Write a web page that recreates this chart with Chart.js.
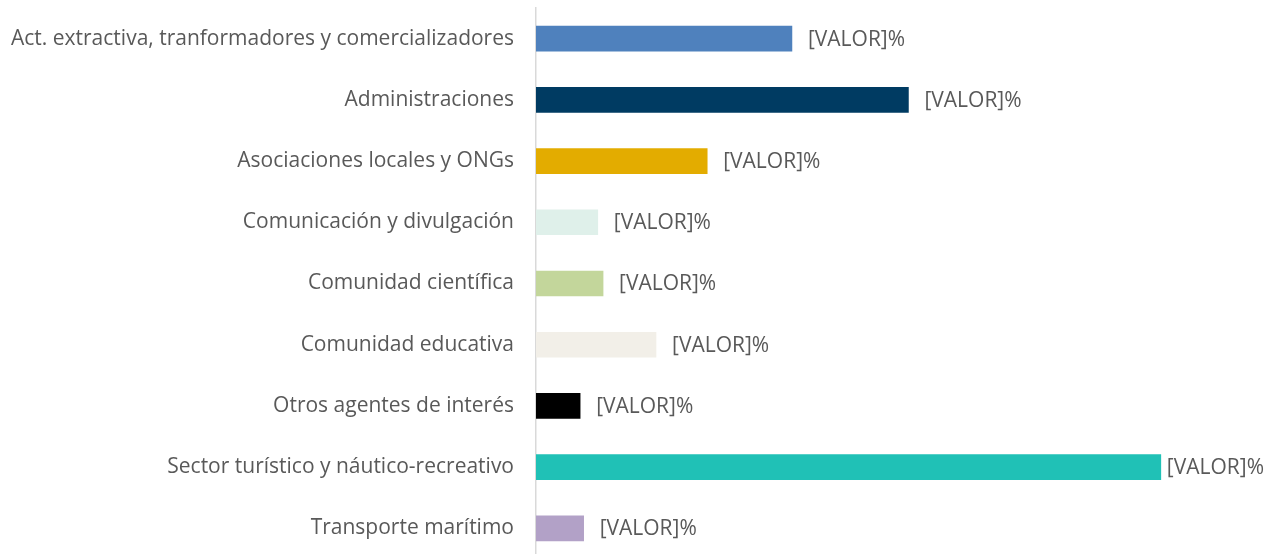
<!DOCTYPE html>
<html>
<head>
<meta charset="utf-8">
<script src="https://cdn.jsdelivr.net/npm/chart.js@4"></script>
<style>
  html, body { margin: 0; padding: 0; background: #fff; overflow: hidden; }
  #wrap { width: 1275px; height: 560px; }
</style>
</head>
<body>
<div id="wrap"><canvas id="myChart"></canvas></div>
<script>
'use strict';
// categories, top to bottom
let categories = [
    'Act. extractiva, tranformadores y comercializadores',
    'Administraciones',
    'Asociaciones locales y ONGs',
    'Comunicación y divulgación',
    'Comunidad científica',
    'Comunidad educativa',
    'Otros agentes de interés',
    'Sector turístico y náutico-recreativo',
    'Transporte marítimo'
];
// estimated shares (%)
let values = [14.5, 21.1, 9.7, 3.5, 3.8, 6.8, 2.5, 35.4, 2.7];
let barColors = [
    '#4F81BD', '#003B62', '#E3AC00', '#DFF0EA', '#C3D69B',
    '#F2EFE8', '#000000', '#20C1B6', '#B2A1C7'
];
let labelText = '[VALOR]%';

const fontFamily = '"Open Sans", sans-serif';
const textColor = '#595959';

// draws "[VALOR]%" to the right of each bar, kept inside the canvas
const valueLabels = {
    id: 'valueLabels',
    afterDatasetsDraw(chart) {
        const ctx = chart.ctx;
        const meta = chart.getDatasetMeta(0);
        ctx.save();
        ctx.font = '21px ' + fontFamily;
        ctx.fillStyle = textColor;
        ctx.textAlign = 'left';
        ctx.textBaseline = 'middle';
        const w = ctx.measureText(labelText).width;
        meta.data.forEach(function (bar) {
            let x = Math.min(bar.x + 16, chart.width - 11 - w);
            ctx.fillText(labelText, x, bar.y + 1);
        });
        ctx.restore();
    }
};

var ctx = document.getElementById('myChart').getContext('2d');
let myChart = new Chart(ctx, {
    type: 'bar',
    data: {
        labels: categories,
        datasets: [{
            data: values,
            backgroundColor: barColors,
            barThickness: 25
        }]
    },
    options: {
        indexAxis: 'y',
        responsive: true,
        maintainAspectRatio: false,
        animation: false,
        layout: { padding: { top: 8, bottom: 1, right: 33, left: 0 } },
        plugins: {
            legend: { display: false },
            tooltip: { enabled: false }
        },
        scales: {
            x: {
                display: false,
                min: 0,
                max: 40
            },
            y: {
                afterFit: function (scale) {
                    scale.width = 536;
                    scale.paddingTop = 0;
                    scale.paddingBottom = 0;
                },
                grid: { display: true, drawOnChartArea: false, drawTicks: false },
                border: { display: true, color: '#D9D9D9', width: 1.5 },
                ticks: {
                    padding: 22,
                    color: textColor,
                    font: { family: fontFamily, size: 21 }
                }
            }
        }
    },
    plugins: [valueLabels]
});
</script>
</body>
</html>
